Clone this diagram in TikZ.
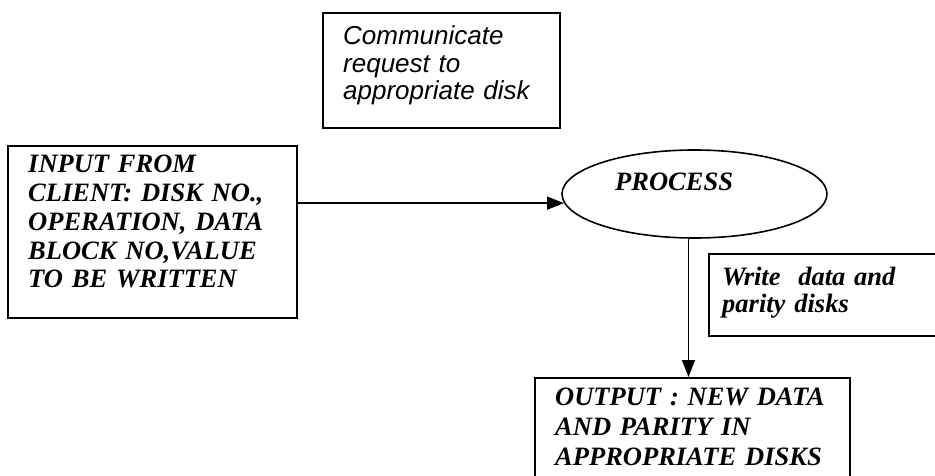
\documentclass[tikz,border=0pt]{standalone}
\usepackage{fontspec}
\setmainfont{Liberation Serif}
\newfontfamily\arialfont{Liberation Sans}
\usetikzlibrary{arrows.meta,shapes.geometric}

\tikzset{
  frame/.style={draw, line width=1.8pt, rectangle, inner sep=0pt, anchor=north west},
  procshape/.style={draw, line width=1.6pt, ellipse, inner sep=0pt},
  lbl/.style={anchor=base west, inner sep=0pt, align=left, text width=#1},
  lbl/.default=300pt,
  serifbi/.style={font=\fontsize{26.5}{#1}\selectfont\bfseries\itshape},
  sansit/.style={font=\arialfont\fontsize{26}{#1}\selectfont\itshape},
  flow/.style={line width=1.5pt, -{Triangle[length=17pt,width=13pt]}}
}

\begin{document}
\begin{tikzpicture}[x=1pt,y=-1pt]
  \useasboundingbox[fill=white] (0,0) rectangle (935,476);
  \clip (0,0) rectangle (935,476);

  % boxes
  \node[frame, minimum width=237pt, minimum height=115pt] (comm) at (322,12) {};
  \node[frame, minimum width=289pt, minimum height=172pt] (input) at (7,145) {};
  \node[frame, minimum width=252pt, minimum height=82pt] (write) at (708,253) {};
  \node[frame, minimum width=315pt, minimum height=143pt] (output) at (534,377) {};
  \node[procshape, minimum width=265pt, minimum height=88pt] (proc) at (694.5,194) {};

  % texts
  \node[lbl=230pt, sansit=27.5pt] (commtxt) at (343,45)
    {Communicate\\request to\\appropriate disk};
  \node[lbl=280pt, serifbi=28.7pt] (inputtxt) at (28,173)
    {INPUT FROM\\CLIENT: DISK NO.,\\OPERATION, DATA\\BLOCK NO,VALUE\\TO BE WRITTEN};
  \node[lbl=200pt, serifbi=28pt] (proctxt) at (615,190) {PROCESS};
  \node[lbl=220pt, serifbi=27pt] (writetxt) at (722,285)
    {Write\ \ data and\\parity disks};
  \node[lbl=300pt, serifbi=30pt] (outputtxt) at (555,405)
    {OUTPUT : NEW DATA\\AND PARITY IN\\APPROPRIATE DISKS};

  % connectors
  \draw[flow] (input.east |- proc.184) -- (proc.184);
  \draw[flow] ([xshift=-6pt]proc.south) -- ([xshift=-6pt]proc.south |- output.north);
\end{tikzpicture}
\end{document}
